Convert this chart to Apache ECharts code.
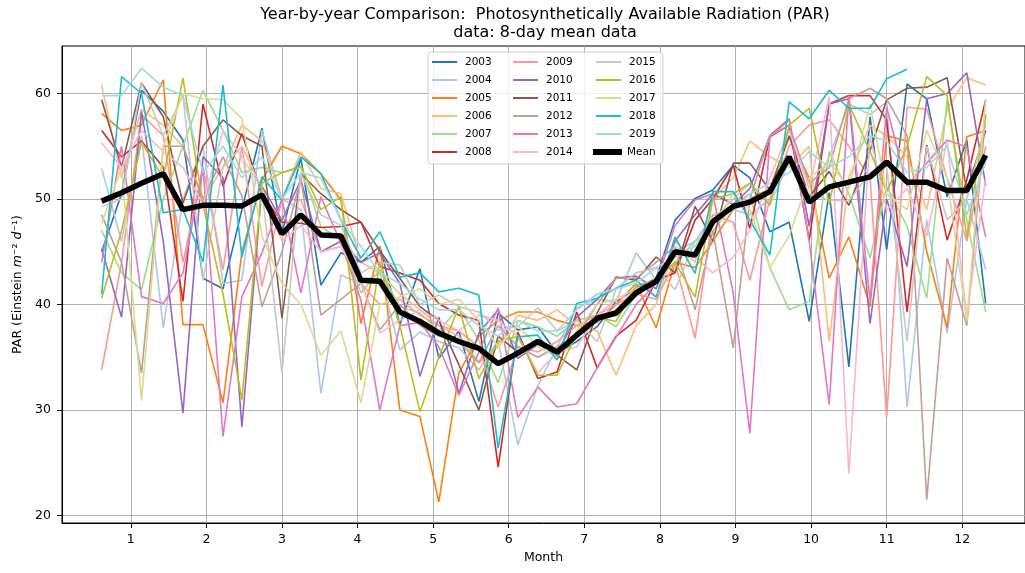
<!DOCTYPE html>
<html>
<head>
<meta charset="utf-8">
<script src="https://cdn.jsdelivr.net/npm/echarts@6/dist/echarts.min.js"></script>
<style>html,body{margin:0;padding:0;background:#fff}#c{width:1025px;height:573px}</style>
</head>
<body>
<div id="c"></div>
<script>
// month positions of the 46 eight-day composites
const months = [0.615,0.878,1.142,1.43,1.69,1.955,2.22,2.47,2.735,3.0,3.25,3.515,3.78,4.045,4.295,4.56,4.825,5.075,5.34,5.605,5.86,6.12,6.385,6.64,6.9,7.17,7.42,7.685,7.95,8.2,8.465,8.7,8.97,9.19,9.455,9.71,9.975,10.24,10.5,10.78,11.0,11.27,11.53,11.8,12.06,12.31];

const years = ['2003','2004','2005','2006','2007','2008','2009','2010','2011','2012','2013','2014','2015','2016','2017','2018','2019'];
const colors = ['#1f77b4','#aec7e8','#ff7f0e','#ffbb78','#98df8a','#d62728','#ff9896','#9467bd','#8c564b','#c49c94','#e377c2','#f7b6d2','#c7c7c7','#bcbd22','#dbdb8d','#17becf','#9edae5'];

const par2003 = [45.0,50.5,60.3,58.3,55.6,42.5,41.5,49.0,56.7,46.8,53.9,41.85,44.9,44.0,45.5,38.1,43.4,34.9,37.5,30.8,39.2,37.6,37.9,35.4,36.5,37.9,40.3,41.5,42.5,48.0,50.05,50.85,53.2,52.0,46.9,47.8,38.4,50.6,34.1,57.8,45.2,60.9,59.5,50.2,55.6,40.1];
const par2004 = [52.9,46.0,56.0,37.8,50.0,55.0,42.0,42.3,56.5,50.0,49.0,31.6,42.8,42.0,43.0,35.7,37.4,36.5,35.9,33.8,36.6,26.7,32.3,36.0,39.7,40.5,40.3,44.9,42.3,45.0,46.0,48.5,49.0,48.5,50.0,54.0,50.0,54.0,59.0,58.0,59.2,30.3,48.0,37.3,50.0,43.3];
const par2005 = [58.1,56.5,57.0,61.3,38.1,38.1,30.7,45.0,51.8,55.0,54.3,52.4,49.9,38.2,45.5,30.0,29.4,21.3,33.5,37.0,38.5,39.3,39.3,38.5,38.0,38.3,40.0,42.0,37.8,44.0,43.5,46.0,49.0,50.0,51.0,55.9,52.0,42.5,46.4,39.8,56.0,55.5,45.0,37.8,55.9,56.5];
const par2006 = [60.8,52.0,58.5,57.0,55.0,50.0,53.0,57.0,55.5,50.0,54.5,51.0,50.5,44.0,43.0,41.0,39.5,38.0,37.0,34.5,36.0,39.0,38.5,39.5,38.0,37.5,33.3,38.0,40.0,46.0,44.0,50.0,52.0,55.5,54.0,53.0,55.0,36.5,52.0,57.0,56.0,54.0,49.0,58.5,61.5,60.8];
const par2007 = [47.0,43.0,41.4,50.0,55.0,60.3,56.5,52.5,53.0,52.5,53.0,47.4,46.1,41.1,43.3,39.8,39.2,37.5,39.7,36.6,32.6,38.5,37.9,37.0,38.5,39.0,37.9,41.0,42.5,44.0,46.0,47.0,49.5,50.5,43.5,39.5,40.3,54.5,50.5,44.4,51.2,47.4,40.6,59.4,48.0,39.3];
const par2008 = [56.5,54.0,55.5,53.0,40.3,59.0,51.2,56.2,50.5,47.8,47.7,47.3,47.4,47.8,43.6,43.0,42.3,40.1,39.0,38.5,24.6,37.4,33.0,33.6,39.3,34.0,37.0,38.5,42.3,43.0,48.0,50.0,53.2,47.2,55.9,57.0,46.1,59.0,59.8,59.8,57.5,39.3,55.1,46.1,51.8,59.4];
const par2009 = [33.8,44.0,58.0,56.0,44.0,53.0,43.3,55.0,41.7,50.0,49.9,45.0,45.5,42.0,40.0,40.5,39.0,38.0,37.5,36.0,30.3,36.0,35.5,36.5,38.0,39.0,40.0,41.0,40.5,44.0,36.8,48.5,47.8,42.3,50.0,55.0,57.0,57.5,55.0,52.0,29.3,58.7,58.5,52.0,46.0,55.0];
const par2010 = [45.3,38.8,58.3,46.0,29.7,54.0,52.0,28.4,51.2,48.0,51.8,45.0,46.0,44.0,44.9,42.0,33.2,38.8,31.6,37.3,39.5,34.9,36.2,35.5,38.8,40.5,42.5,42.7,41.5,46.0,48.5,50.5,49.5,51.0,56.0,57.6,47.4,59.0,59.5,38.2,50.0,43.6,59.5,60.0,61.95,51.3];
const par2011 = [59.4,53.0,61.0,57.8,49.6,55.0,57.5,56.0,55.0,38.7,52.4,50.5,49.0,47.8,45.1,42.5,39.8,38.5,34.3,30.0,37.0,35.5,36.5,35.2,33.8,39.2,42.6,42.3,44.5,43.0,49.3,46.0,53.4,53.4,50.85,56.0,50.2,52.6,49.4,54.6,59.4,60.5,60.6,61.5,50.8,56.5];
const par2012 = [48.5,44.0,33.5,55.0,55.0,50.0,54.0,50.3,39.8,45.0,52.0,39.0,40.5,42.0,37.6,40.0,38.0,37.0,36.5,34.5,38.0,36.0,35.0,36.0,37.0,40.0,42.5,42.5,44.0,45.5,39.5,47.0,35.9,50.0,56.0,57.0,51.5,53.0,59.5,60.5,59.5,56.0,21.5,44.4,38.0,58.0];
const par2013 = [44.0,55.0,40.75,40.1,43.0,53.0,27.5,40.75,44.9,50.0,41.1,50.2,45.8,40.4,30.0,38.0,38.3,36.0,31.4,35.5,39.7,29.3,32.2,30.3,30.6,34.0,36.9,40.0,42.0,47.5,49.9,50.5,41.1,27.8,55.9,57.5,46.0,30.5,59.8,40.4,58.7,51.2,53.4,55.6,54.9,46.4];
const par2014 = [55.3,53.0,56.5,54.5,53.0,49.5,56.5,54.0,51.0,46.0,47.5,45.0,45.5,42.0,37.3,38.5,39.5,38.5,37.5,39.0,38.5,37.0,33.5,35.5,36.0,39.0,40.5,41.5,42.0,45.5,44.5,43.0,44.5,47.0,52.0,56.5,51.0,59.7,24.0,56.0,49.0,51.0,46.5,55.5,38.8,52.0];
const par2015 = [49.3,50.0,61.0,56.0,59.8,42.3,53.0,55.0,51.0,33.5,52.4,48.5,47.5,43.0,44.0,43.75,40.0,40.9,39.8,39.3,37.6,37.9,39.7,37.5,38.5,36.5,41.5,43.0,43.5,41.4,46.0,48.0,50.0,51.5,49.5,53.5,50.5,49.9,49.8,52.5,53.0,36.5,55.0,48.0,50.0,57.0];
const par2016 = [40.6,47.0,55.4,52.0,61.45,49.5,41.0,31.0,51.5,52.5,53.1,49.0,50.2,32.85,44.0,38.0,29.85,35.0,39.8,33.0,36.5,37.0,33.3,33.3,37.3,38.8,38.4,41.8,42.3,44.0,40.7,50.0,50.5,51.5,49.4,57.0,58.6,49.5,59.0,54.5,50.7,55.0,61.6,59.8,46.4,58.0];
const par2017 = [47.7,53.0,30.9,55.0,60.0,59.5,59.4,57.6,46.5,42.0,40.0,35.2,37.5,30.7,40.0,40.75,41.5,40.0,40.5,38.5,36.0,38.0,36.0,35.0,37.5,40.0,40.5,41.0,42.5,44.5,45.0,47.5,50.5,49.0,43.5,46.5,52.0,53.5,51.0,59.0,50.5,49.0,56.5,52.0,38.4,59.5];
const par2018 = [41.0,61.6,60.0,48.7,49.0,44.05,60.8,44.5,52.1,49.9,54.0,52.4,48.0,44.4,46.9,42.6,43.0,41.2,41.55,40.9,26.4,36.95,37.1,34.75,40.1,40.6,41.55,42.3,40.7,46.4,42.95,50.7,50.7,48.0,44.7,59.2,57.6,60.3,58.6,58.6,61.4,62.3,null,null,null,null];
const par2019 = [59.8,59.8,62.4,60.6,59.8,52.5,55.0,52.0,54.0,50.0,52.5,52.0,48.0,45.5,43.0,42.0,40.5,39.5,39.5,38.0,37.0,38.5,37.5,37.5,39.5,41.0,41.5,42.0,43.5,44.5,45.5,48.0,49.0,50.5,51.5,52.5,54.5,53.0,54.0,56.0,55.5,52.5,53.0,55.0,48.5,53.5];
const parMean = [49.8,50.6,51.5,52.4,49.0,49.4,49.4,49.35,50.4,46.7,48.5,46.6,46.5,42.3,42.2,39.3,38.4,37.3,36.5,35.85,34.4,35.4,36.5,35.5,37.1,38.7,39.2,41.1,42.2,45.0,44.7,47.85,49.3,49.7,50.7,54.0,49.7,51.15,51.6,52.1,53.5,51.6,51.6,50.8,50.8,54.15];

const yearValues = [par2003,par2004,par2005,par2006,par2007,par2008,par2009,par2010,par2011,par2012,par2013,par2014,par2015,par2016,par2017,par2018,par2019];
const xTicks = [1,2,3,4,5,6,7,8,9,10,11,12];
const yTicks = [20,30,40,50,60];

const pair = v => months.map((m, i) => [m, v[i]]);

const series = years.map((y, i) => ({
  name: y, type: 'line', data: pair(yearValues[i]), showSymbol: false, symbol: 'none',
  lineStyle: {width: 1.6, color: colors[i]}, itemStyle: {color: colors[i]},
  connectNulls: false, silent: true, animation: false
}));
series.push({
  name: 'Mean', type: 'line', data: pair(parMean), showSymbol: false, symbol: 'none',
  lineStyle: {width: 5.5, color: '#000'}, itemStyle: {color: '#000'}, silent: true, animation: false
});

const font = 'DejaVu Sans';
const legendBase = {
  orient: 'vertical', itemWidth: 25, itemHeight: 2, icon: 'rect', itemGap: 4, padding: 0,
  textStyle: {fontFamily: font, fontSize: 10.5, color: '#000', lineHeight: 14, padding: [0,0,0,3]},
  selectedMode: false, z: 5
};

const chart = echarts.init(document.getElementById('c'), null, {renderer: 'canvas'});
chart.setOption({
  animation: false,
  backgroundColor: '#fff',
  title: {
    text: 'Year-by-year Comparison:  Photosynthetically Available Radiation (PAR)\ndata: 8-day mean data',
    left: 545, top: 6, textAlign: 'center', padding: 0,
    textStyle: {fontFamily: font, fontSize: 16, fontWeight: 'normal', color: '#000', lineHeight: 18}
  },
  grid: {left: 62, right: 0, top: 46, bottom: 50, show: true, borderColor: '#000', borderWidth: 1, containLabel: false},
  xAxis: {
    type: 'value', min: 0.09, max: 12.83,
    name: 'Month', nameLocation: 'middle', nameGap: 28,
    nameTextStyle: {fontFamily: font, fontSize: 12.5, color: '#000'},
    axisLine: {show: true, lineStyle: {color: '#000', width: 1}},
    axisTick: {show: true, inside: false, length: 5, lineStyle: {color: '#000'}, customValues: xTicks},
    axisLabel: {fontFamily: font, fontSize: 12.5, color: '#000', margin: 10, customValues: xTicks},
    splitLine: {show: true, lineStyle: {color: '#b0b0b0', width: 1}}
  },
  yAxis: {
    type: 'value', min: 19.3, max: 64.5,
    name: '{n|PAR (Einstein }{i|m}{n|⁻² }{i|d}{n|⁻¹)}', nameLocation: 'middle', nameGap: 38,
    nameTextStyle: {fontFamily: font, fontSize: 12.5, color: '#000',
      rich: {n: {fontFamily: font, fontSize: 12.5, color: '#000'}, i: {fontFamily: font, fontSize: 12.5, fontStyle: 'italic', color: '#000'}}},
    axisLine: {show: true, lineStyle: {color: '#000', width: 1}},
    axisTick: {show: true, inside: false, length: 5, lineStyle: {color: '#000'}, customValues: yTicks},
    axisLabel: {fontFamily: font, fontSize: 12.5, color: '#000', margin: 11, customValues: yTicks},
    splitLine: {show: true, lineStyle: {color: '#b0b0b0', width: 1}}
  },
  legend: [
    Object.assign({}, legendBase, {left: 432, top: 55, data: years.slice(0, 6)}),
    Object.assign({}, legendBase, {left: 513, top: 55, data: years.slice(6, 12)}),
    Object.assign({}, legendBase, {left: 596, top: 55, data: years.slice(12, 17)}),
    Object.assign({}, legendBase, {left: 593, top: 145, itemWidth: 29, itemHeight: 6, data: ['Mean'], textStyle: Object.assign({}, legendBase.textStyle, {padding: [0,0,0,0]})})
  ],
  graphic: {elements: [{
    type: 'rect', z: 4, silent: true,
    shape: {x: 428, y: 52, width: 235, height: 112, r: 3},
    style: {fill: 'rgba(255,255,255,0.8)', stroke: '#d0d0d0', lineWidth: 1}
  }]},
  series: series
});
</script>
</body>
</html>
